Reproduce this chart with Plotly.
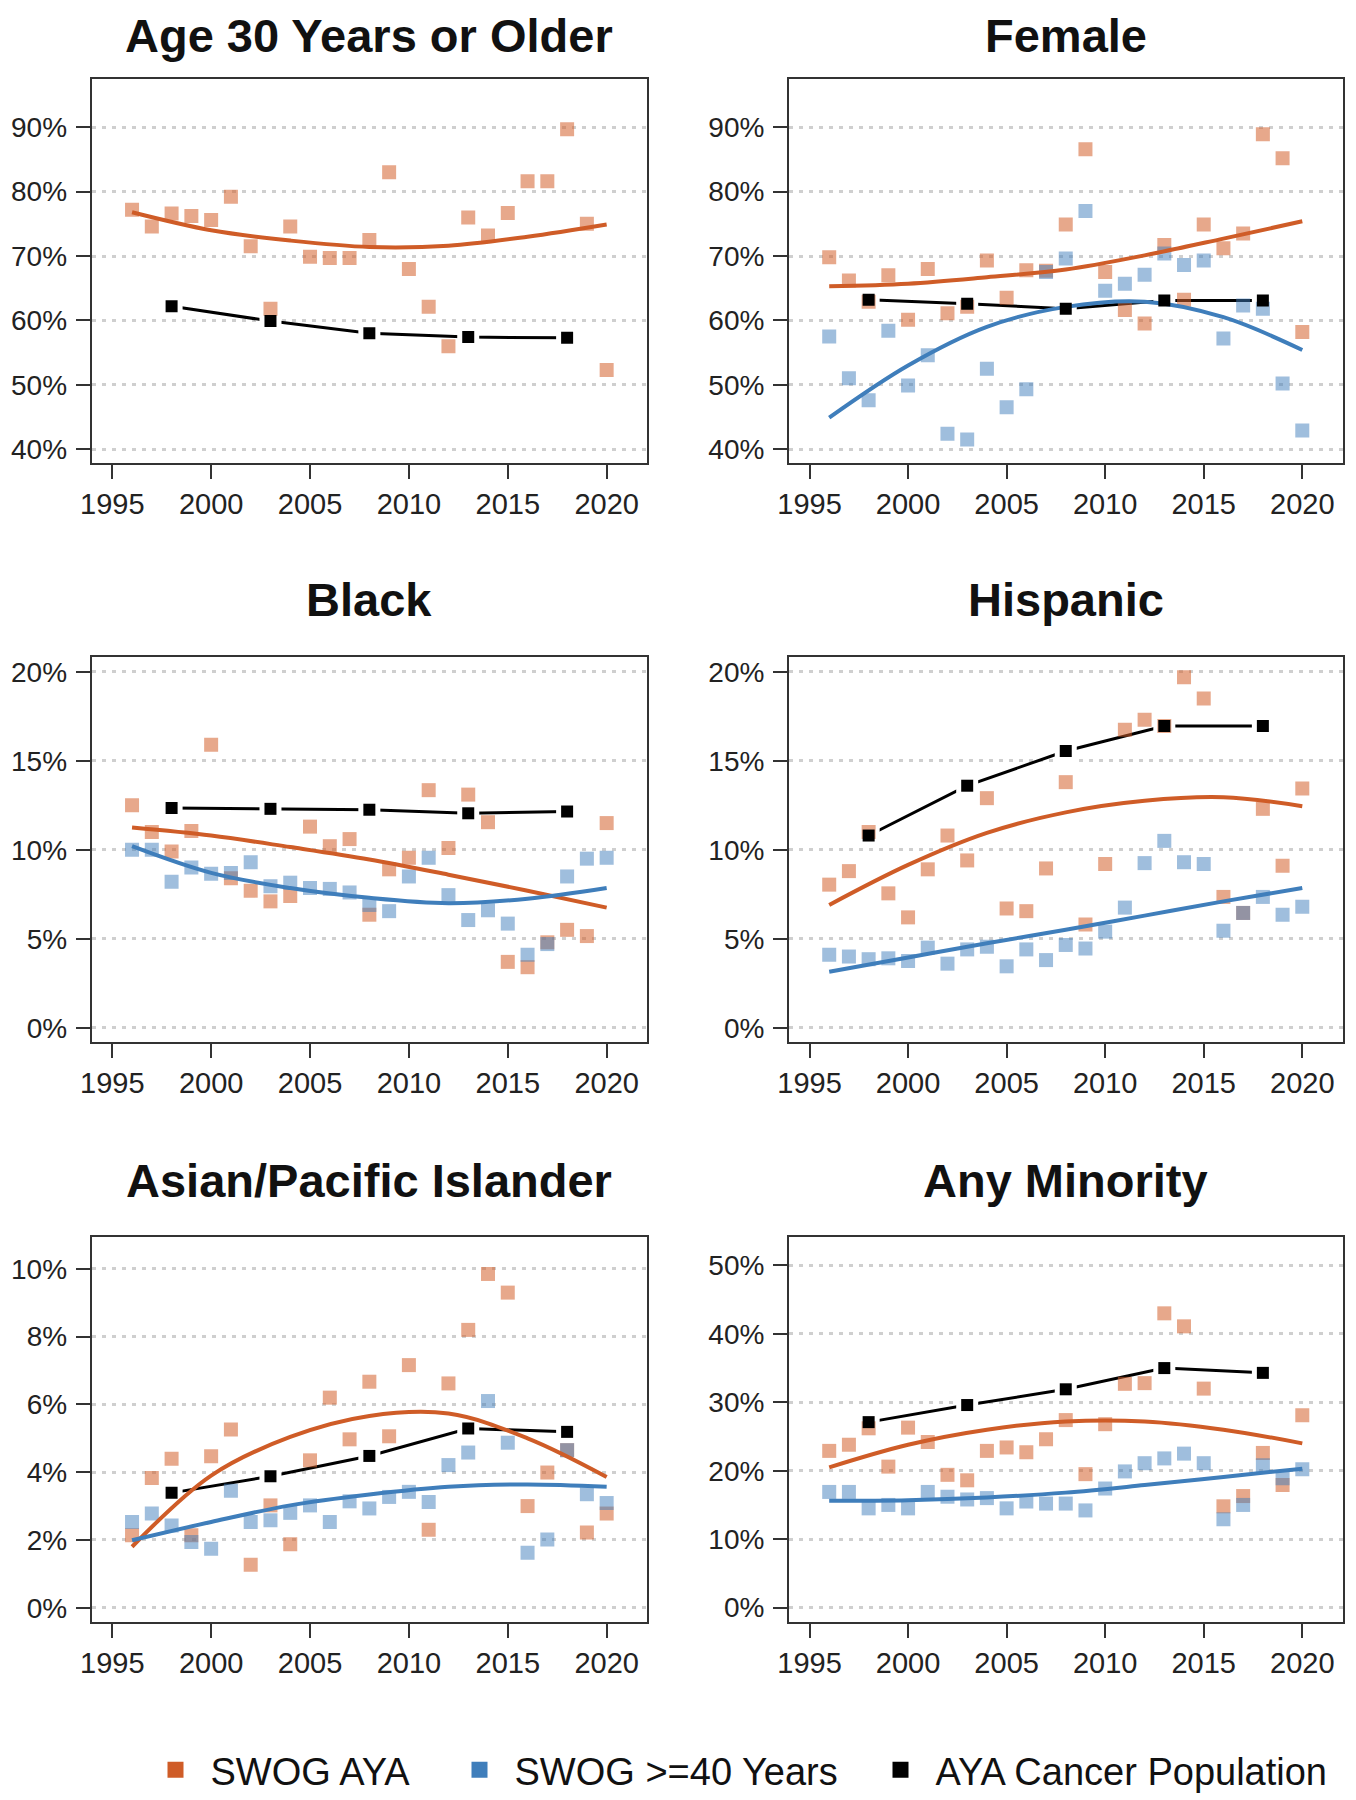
import plotly.graph_objects as go

# ---------------- data ----------------
years = list(range(1996, 2021))
pop_years = [1998, 2003, 2008, 2013, 2018]
fit_years = [1996, 2000, 2004, 2008, 2012, 2016, 2020]
x_ticks = [1995, 2000, 2005, 2010, 2015, 2020]

titles = ["Age 30 Years or Older", "Female", "Black", "Hispanic",
          "Asian/Pacific Islander", "Any Minority"]
series_names = ["SWOG AYA", "SWOG >=40 Years", "AYA Cancer Population"]

# Age 30 years or older (only AYA + population)
age30_aya = [77.2, 74.6, 76.6, 76.2, 75.6, 79.2, 71.5, 61.8, 74.6, 69.9, 69.7, 69.7, 72.5,
             83.0, 68.0, 62.1, 56.0, 76.0, 73.2, 76.7, 81.6, 81.6, 89.7, 75.0, 52.3]
age30_pop = [62.2, 59.9, 58.0, 57.4, 57.3]
age30_aya_fit = [76.8, 74.0, 72.4, 71.4, 71.6, 73.0, 74.9]

# Female
female_aya = [69.8, 66.2, 62.9, 67.0, 60.1, 68.0, 61.1, 62.1, 69.3, 63.5, 67.8, 67.7, 74.9,
              86.6, 67.5, 61.6, 59.5, 71.7, 63.2, 74.9, 71.2, 73.5, 88.9, 85.2, 58.2]
female_old = [57.5, 51.0, 47.6, 58.4, 49.9, 54.6, 42.4, 41.5, 52.5, 46.5, 49.3, 67.5, 69.6,
              77.0, 64.6, 65.7, 67.1, 70.4, 68.6, 69.3, 57.2, 62.3, 61.8, 50.2, 42.9]
female_pop = [63.2, 62.6, 61.8, 63.1, 63.1]
female_aya_fit = [65.3, 65.7, 66.7, 67.9, 70.1, 72.7, 75.4]
female_old_fit = [44.9, 53.0, 59.0, 62.1, 62.9, 60.5, 55.4]

# Black
black_aya = [12.5, 11.0, 9.9, 11.05, 15.9, 8.4, 7.7, 7.1, 7.4, 11.3, 10.2, 10.6, 6.35,
             8.9, 9.55, 13.35, 10.1, 13.1, 11.55, 3.7, 3.4, 4.8, 5.5, 5.15, 11.5]
black_old = [10.0, 10.0, 8.2, 9.0, 8.65, 8.7, 9.3, 7.95, 8.15, 7.85, 7.8, 7.6, 6.9,
             6.55, 8.5, 9.55, 7.45, 6.05, 6.6, 5.85, 4.1, 4.7, 8.5, 9.5, 9.55]
black_pop = [12.35, 12.3, 12.25, 12.05, 12.15]
black_aya_fit = [11.25, 10.8, 10.15, 9.45, 8.6, 7.7, 6.75]
black_old_fit = [10.2, 8.7, 7.85, 7.3, 7.0, 7.25, 7.85]

# Hispanic
hisp_aya = [8.04, 8.8, 11.0, 7.55, 6.2, 8.9, 10.8, 9.4, 12.9, 6.7, 6.55, 8.95, 13.8,
            5.8, 9.2, 16.75, 17.3, 16.95, 19.7, 18.5, 7.35, 6.45, 12.3, 9.1, 13.45]
hisp_old = [4.1, 4.0, 3.85, 3.9, 3.75, 4.5, 3.6, 4.4, 4.55, 3.45, 4.4, 3.8, 4.65,
            4.45, 5.4, 6.75, 9.25, 10.5, 9.3, 9.2, 5.45, 6.45, 7.35, 6.35, 6.8]
hisp_pop = [10.8, 13.6, 15.55, 16.95, 16.95]
hisp_aya_fit = [6.9, 9.15, 10.95, 12.1, 12.75, 12.95, 12.45]
hisp_old_fit = [3.15, 3.95, 4.75, 5.5, 6.3, 7.1, 7.85]

# Asian/Pacific Islander
asian_aya = [2.14, 3.83, 4.4, 2.14, 4.47, 5.26, 1.27, 3.02, 1.87, 4.35, 6.2, 4.97, 6.67,
             5.06, 7.16, 2.3, 6.62, 8.2, 9.85, 9.3, 3.0, 3.99, 4.65, 2.22, 2.78]
asian_old = [2.53, 2.78, 2.43, 1.94, 1.74, 3.45, 2.53, 2.58, 2.8, 3.02, 2.53, 3.14, 2.93,
             3.27, 3.42, 3.12, 4.21, 4.58, 6.1, 4.87, 1.62, 2.01, 4.65, 3.35, 3.09]
asian_pop = [3.39, 3.88, 4.48, 5.29, 5.19]
asian_aya_fit = [1.8, 3.9, 5.04, 5.66, 5.73, 5.0, 3.86]
asian_old_fit = [1.99, 2.53, 3.02, 3.34, 3.57, 3.64, 3.57]

# Any minority
minority_aya = [22.9, 23.8, 26.2, 20.6, 26.3, 24.2, 19.4, 18.6, 22.9, 23.4, 22.7, 24.6, 27.4,
                19.5, 26.8, 32.7, 32.8, 43.0, 41.1, 32.0, 14.8, 16.3, 22.6, 17.9, 28.1]
minority_old = [16.9, 16.9, 14.5, 15.0, 14.5, 16.9, 16.2, 15.8, 16.0, 14.5, 15.5, 15.2, 15.2,
                14.2, 17.4, 19.9, 21.1, 21.8, 22.5, 21.1, 12.9, 15.0, 20.8, 18.9, 20.2]
minority_pop = [27.1, 29.6, 31.9, 35.0, 34.3]
minority_aya_fit = [20.5, 23.8, 26.0, 27.2, 27.2, 26.0, 24.0]
minority_old_fit = [15.6, 15.7, 16.1, 16.8, 17.9, 19.1, 20.3]

y_tick_sets = [
    [40, 50, 60, 70, 80, 90],
    [40, 50, 60, 70, 80, 90],
    [0, 5, 10, 15, 20],
    [0, 5, 10, 15, 20],
    [0, 2, 4, 6, 8, 10],
    [0, 10, 20, 30, 40, 50],
]
y_ranges = [[37.8, 97.45], [37.8, 97.45], [-0.82, 20.85], [-0.82, 20.85],
            [-0.43, 10.95], [-2.15, 54.2]]
x_range = [1993.96, 2022.04]

# ---------------- styling ----------------
ORANGE = "#CF5C27"
BLUE = "#3F7EBB"
ORANGE_PT = "rgba(212,96,44,0.55)"
BLUE_PT = "rgba(63,126,187,0.5)"
FONT = "Liberation Sans, Arial, Helvetica, sans-serif"

panels = [
    (age30_aya, None, age30_pop, age30_aya_fit, None),
    (female_aya, female_old, female_pop, female_aya_fit, female_old_fit),
    (black_aya, black_old, black_pop, black_aya_fit, black_old_fit),
    (hisp_aya, hisp_old, hisp_pop, hisp_aya_fit, hisp_old_fit),
    (asian_aya, asian_old, asian_pop, asian_aya_fit, asian_old_fit),
    (minority_aya, minority_old, minority_pop, minority_aya_fit, minority_old_fit),
]

# page has an 8px body margin: positions below are in figure px (page px - 8)
W, H = 1340, 1792
x_domains = [[83.7 / W, 639 / W], [781 / W, 1334.5 / W]]
y_domains = [[1 - 455.3 / H, 1 - 71.3 / H],
             [1 - 1034.3 / H, 1 - 648.7 / H],
             [1 - 1614.3 / H, 1 - 1228.7 / H]]
title_y = [1 - 27 / H, 1 - 592 / H, 1 - 1172 / H]

fig = go.Figure()
layout = dict(
    width=W, height=H,
    margin=dict(l=0, r=0, t=0, b=0, autoexpand=False),
    paper_bgcolor="white", plot_bgcolor="white",
    font=dict(family=FONT, color="#222"),
    showlegend=True,
    annotations=[],
)

for i, (aya, old, pop, aya_fit, old_fit) in enumerate(panels):
    r, c = divmod(i, 2)
    sfx = "" if i == 0 else str(i + 1)
    xa, ya = "x" + sfx, "y" + sfx

    # population line (drawn first), then white gap squares
    fig.add_trace(go.Scatter(x=pop_years, y=pop, mode="lines", xaxis=xa, yaxis=ya,
                             line=dict(color="black", width=3), showlegend=False,
                             hoverinfo="skip"))
    fig.add_trace(go.Scatter(x=pop_years, y=pop, mode="markers", xaxis=xa, yaxis=ya,
                             marker=dict(symbol="square", size=22, color="white"),
                             showlegend=False, hoverinfo="skip"))
    # scatter points
    fig.add_trace(go.Scatter(x=years, y=aya, mode="markers", xaxis=xa, yaxis=ya,
                             marker=dict(symbol="square", size=14, color=ORANGE_PT),
                             showlegend=False))
    if old is not None:
        fig.add_trace(go.Scatter(x=years, y=old, mode="markers", xaxis=xa, yaxis=ya,
                                 marker=dict(symbol="square", size=14, color=BLUE_PT),
                                 showlegend=False))
    # fitted curves
    fig.add_trace(go.Scatter(x=fit_years, y=aya_fit, mode="lines", xaxis=xa, yaxis=ya,
                             line=dict(color=ORANGE, width=4, shape="spline", smoothing=1.0),
                             showlegend=False, hoverinfo="skip"))
    if old_fit is not None:
        fig.add_trace(go.Scatter(x=fit_years, y=old_fit, mode="lines", xaxis=xa, yaxis=ya,
                                 line=dict(color=BLUE, width=4, shape="spline", smoothing=1.0),
                                 showlegend=False, hoverinfo="skip"))
    # population markers
    fig.add_trace(go.Scatter(x=pop_years, y=pop, mode="markers", xaxis=xa, yaxis=ya,
                             marker=dict(symbol="square", size=12, color="black"),
                             showlegend=False))

    axis_common = dict(
        showline=True, mirror=True, linecolor="#333", linewidth=2,
        ticks="outside", ticklen=14, tickwidth=2, tickcolor="#333",
        zeroline=False, fixedrange=True, automargin=False,
    )
    layout["xaxis" + sfx] = dict(
        axis_common, domain=x_domains[c], range=x_range, tickmode="array",
        tickvals=x_ticks, ticktext=[str(v) for v in x_ticks], showgrid=False, anchor=ya,
        ticklabelstandoff=0, tickfont=dict(size=29, color="#222", family=FONT),
    )
    layout["yaxis" + sfx] = dict(
        axis_common, domain=y_domains[r], range=y_ranges[i], tickmode="array",
        tickvals=y_tick_sets[i], ticktext=[f"{v}%" for v in y_tick_sets[i]],
        showgrid=True, gridcolor="#cfcfcf", gridwidth=2.5, griddash="4px,6px", anchor=xa,
        ticklabelstandoff=3, tickfont=dict(size=28, color="#222", family=FONT),
    )
    layout["annotations"].append(dict(
        text="<b>" + titles[i] + "</b>", xref="paper", yref="paper",
        x=sum(x_domains[c]) / 2, y=title_y[r], xanchor="center", yanchor="middle",
        showarrow=False, font=dict(size=47, color="#111", family=FONT),
    ))

# legend entries, each in its own legend box to match spacing
legend_x = [132.5, 436.5, 857.5]
for k, (name, col) in enumerate(zip(series_names, [ORANGE, BLUE, "black"])):
    lname = "legend" if k == 0 else f"legend{k + 1}"
    fig.add_trace(go.Scatter(x=[None], y=[None], mode="markers", name=name,
                             marker=dict(symbol="square", size=17, color=col),
                             xaxis="x", yaxis="y", legend=lname))
    layout[lname] = dict(
        orientation="h", x=legend_x[k] / W, xanchor="left", y=1 - 1762 / H,
        yanchor="middle", font=dict(size=38, color="#111", family=FONT), itemwidth=60,
        bgcolor="rgba(0,0,0,0)", itemclick=False, itemdoubleclick=False,
    )

fig.update_layout(**layout)
fig.write_html("out.html")
